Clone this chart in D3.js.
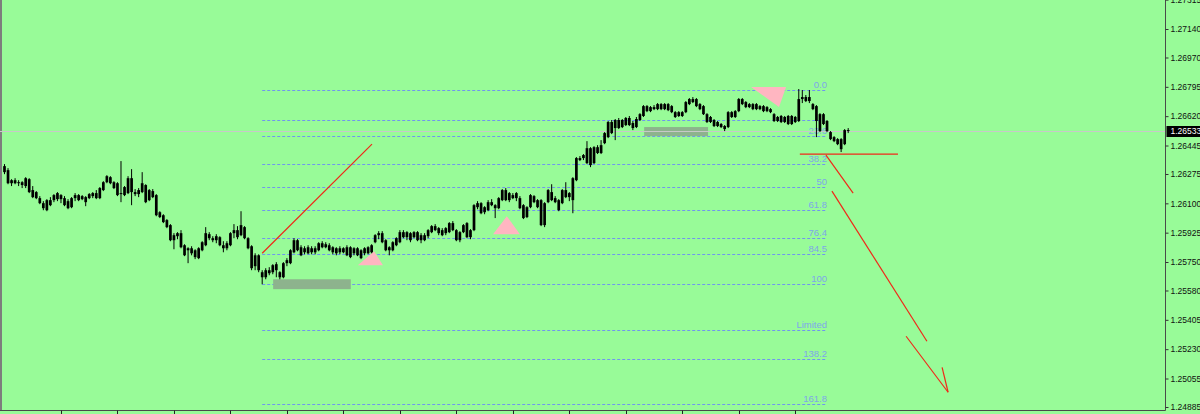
<!DOCTYPE html>
<html><head><meta charset="utf-8">
<script src="https://cdnjs.cloudflare.com/ajax/libs/d3/7.8.5/d3.min.js"></script>
<style>html,body{margin:0;padding:0;background:#98fb98;overflow:hidden}</style></head>
<body><svg id="c" width="1200" height="414"></svg>
<script>
const open=[1.26322,1.26298,1.26220,1.26238,1.26220,1.26226,1.26203,1.26244,1.26179,1.26167,
1.26131,1.26101,1.26059,1.26119,1.26119,1.26161,1.26125,1.26131,1.26113,1.26077,
1.26131,1.26149,1.26125,1.26137,1.26131,1.26143,1.26161,1.26131,1.26179,1.26226,
1.26256,1.26226,1.26220,1.26155,1.26149,1.26161,1.26250,1.26167,1.26155,1.26167,
1.26209,1.26119,1.26173,1.26149,1.26047,1.26029,1.26000,1.25970,1.25880,1.25904,
1.25922,1.25850,1.25820,1.25832,1.25820,1.25773,1.25820,1.25850,1.25916,1.25892,
1.25880,1.25898,1.25850,1.25832,1.25850,1.25922,1.25940,1.25910,1.25958,1.25892,
1.25844,1.25725,1.25790,1.25689,1.25659,1.25701,1.25689,1.25737,1.25689,1.25659,
1.25743,1.25743,1.25808,1.25880,1.25838,1.25808,1.25838,1.25808,1.25832,1.25820,
1.25862,1.25838,1.25850,1.25838,1.25832,1.25808,1.25832,1.25838,1.25838,1.25802,
1.25832,1.25820,1.25802,1.25802,1.25808,1.25868,1.25910,1.25922,1.25880,1.25820,
1.25820,1.25850,1.25868,1.25928,1.25898,1.25922,1.25898,1.25928,1.25880,1.25910,
1.25904,1.25928,1.25964,1.25952,1.25940,1.25922,1.25928,1.25982,1.25940,1.25880,
1.25928,1.25982,1.25898,1.25940,1.26077,1.26101,1.26047,1.26059,1.26107,1.26089,
1.26071,1.26119,1.26179,1.26119,1.26149,1.26131,1.26131,1.26089,1.26018,1.26077,
1.26143,1.26119,1.26119,1.25970,1.26107,1.26167,1.26131,1.26119,1.26101,1.26179,
1.26137,1.26119,1.26238,1.26370,1.26370,1.26340,1.26429,1.26340,1.26435,1.26400,
1.26459,1.26495,1.26585,1.26549,1.26597,1.26555,1.26567,1.26609,1.26579,1.26555,
1.26597,1.26621,1.26680,1.26650,1.26674,1.26662,1.26692,1.26662,1.26692,1.26680,
1.26644,1.26621,1.26644,1.26644,1.26692,1.26722,1.26722,1.26692,1.26680,1.26632,
1.26615,1.26597,1.26561,1.26573,1.26561,1.26555,1.26644,1.26615,1.26650,1.26722,
1.26704,1.26674,1.26692,1.26662,1.26680,1.26680,1.26650,1.26662,1.26632,1.26591,
1.26621,1.26585,1.26621,1.26573,1.26615,1.26591,1.26722,1.26734,1.26710,1.26692,
1.26680,1.26632,1.26573,1.26591,1.26525,1.26495,1.26483,1.26423,1.26453,1.26537];
const high=[1.26334,1.26310,1.26244,1.26250,1.26238,1.26232,1.26256,1.26250,1.26203,1.26173,
1.26143,1.26113,1.26125,1.26137,1.26155,1.26167,1.26155,1.26143,1.26125,1.26137,
1.26161,1.26155,1.26149,1.26143,1.26161,1.26167,1.26179,1.26197,1.26232,1.26268,
1.26262,1.26232,1.26226,1.26352,1.26203,1.26262,1.26304,1.26185,1.26191,1.26286,
1.26214,1.26185,1.26185,1.26155,1.26053,1.26035,1.26006,1.25976,1.25922,1.25928,
1.25940,1.25856,1.25838,1.25844,1.25826,1.25838,1.25874,1.25958,1.25928,1.25904,
1.25916,1.25904,1.25874,1.25874,1.25928,1.25976,1.25964,1.26053,1.25964,1.25898,
1.25850,1.25802,1.25796,1.25701,1.25713,1.25719,1.25737,1.25749,1.25695,1.25749,
1.25773,1.25826,1.25892,1.25886,1.25850,1.25844,1.25850,1.25844,1.25844,1.25868,
1.25874,1.25868,1.25862,1.25844,1.25838,1.25844,1.25838,1.25850,1.25844,1.25838,
1.25838,1.25826,1.25838,1.25844,1.25856,1.25916,1.25934,1.25934,1.25886,1.25844,
1.25874,1.25898,1.25940,1.25940,1.25934,1.25928,1.25934,1.25934,1.25922,1.25922,
1.25946,1.25970,1.25976,1.25958,1.25952,1.25958,1.25988,1.25994,1.25946,1.25934,
1.25976,1.25988,1.25946,1.26095,1.26113,1.26107,1.26083,1.26119,1.26125,1.26095,
1.26137,1.26185,1.26191,1.26167,1.26161,1.26167,1.26143,1.26095,1.26083,1.26155,
1.26149,1.26125,1.26125,1.26107,1.26185,1.26214,1.26143,1.26125,1.26185,1.26226,
1.26167,1.26256,1.26376,1.26382,1.26394,1.26471,1.26435,1.26441,1.26447,1.26477,
1.26525,1.26591,1.26597,1.26603,1.26609,1.26603,1.26615,1.26621,1.26591,1.26615,
1.26638,1.26686,1.26686,1.26680,1.26686,1.26698,1.26698,1.26698,1.26698,1.26686,
1.26650,1.26650,1.26650,1.26710,1.26728,1.26734,1.26728,1.26698,1.26686,1.26638,
1.26621,1.26603,1.26591,1.26579,1.26567,1.26650,1.26650,1.26656,1.26728,1.26728,
1.26710,1.26698,1.26698,1.26698,1.26686,1.26686,1.26680,1.26668,1.26638,1.26621,
1.26627,1.26621,1.26627,1.26627,1.26621,1.26782,1.26776,1.26746,1.26776,1.26698,
1.26686,1.26638,1.26638,1.26597,1.26531,1.26501,1.26489,1.26489,1.26543,1.26549];
const low=[1.26274,1.26214,1.26203,1.26214,1.26203,1.26191,1.26191,1.26161,1.26131,1.26125,
1.26095,1.26059,1.26053,1.26083,1.26107,1.26113,1.26101,1.26083,1.26065,1.26071,
1.26113,1.26113,1.26119,1.26083,1.26125,1.26131,1.26125,1.26125,1.26173,1.26220,
1.26214,1.26185,1.26143,1.26107,1.26143,1.26155,1.26089,1.26143,1.26137,1.26161,
1.26101,1.26113,1.26131,1.26023,1.26012,1.25982,1.25952,1.25874,1.25826,1.25886,
1.25832,1.25785,1.25743,1.25790,1.25767,1.25767,1.25814,1.25844,1.25880,1.25868,
1.25862,1.25844,1.25808,1.25820,1.25844,1.25892,1.25886,1.25904,1.25886,1.25826,
1.25701,1.25701,1.25689,1.25617,1.25647,1.25671,1.25677,1.25659,1.25647,1.25653,
1.25725,1.25737,1.25802,1.25814,1.25785,1.25796,1.25796,1.25796,1.25796,1.25814,
1.25832,1.25832,1.25814,1.25796,1.25790,1.25796,1.25802,1.25785,1.25773,1.25790,
1.25785,1.25767,1.25790,1.25796,1.25802,1.25862,1.25886,1.25862,1.25814,1.25790,
1.25814,1.25844,1.25862,1.25892,1.25880,1.25868,1.25892,1.25874,1.25862,1.25874,
1.25892,1.25922,1.25934,1.25910,1.25904,1.25910,1.25922,1.25934,1.25874,1.25868,
1.25922,1.25892,1.25886,1.25934,1.26065,1.26035,1.26035,1.26053,1.26083,1.26012,
1.26065,1.26113,1.26113,1.26107,1.26125,1.26113,1.26065,1.26006,1.26012,1.26071,
1.26101,1.26071,1.25964,1.25958,1.26101,1.26113,1.26101,1.26053,1.26095,1.26131,
1.26113,1.26041,1.26232,1.26352,1.26358,1.26334,1.26316,1.26334,1.26394,1.26394,
1.26453,1.26489,1.26513,1.26477,1.26543,1.26549,1.26561,1.26561,1.26537,1.26549,
1.26591,1.26615,1.26644,1.26644,1.26656,1.26656,1.26656,1.26656,1.26650,1.26638,
1.26609,1.26615,1.26615,1.26638,1.26686,1.26698,1.26674,1.26656,1.26627,1.26579,
1.26579,1.26555,1.26555,1.26549,1.26531,1.26549,1.26609,1.26609,1.26644,1.26686,
1.26668,1.26668,1.26656,1.26656,1.26656,1.26644,1.26644,1.26638,1.26585,1.26585,
1.26579,1.26579,1.26567,1.26567,1.26579,1.26585,1.26698,1.26704,1.26698,1.26656,
1.26495,1.26525,1.26567,1.26525,1.26477,1.26465,1.26447,1.26406,1.26447,1.26519];
const close=[1.26286,1.26220,1.26238,1.26220,1.26226,1.26209,1.26250,1.26167,1.26137,1.26131,
1.26101,1.26071,1.26119,1.26089,1.26149,1.26125,1.26149,1.26089,1.26071,1.26131,
1.26149,1.26119,1.26143,1.26107,1.26155,1.26161,1.26131,1.26191,1.26226,1.26262,
1.26220,1.26191,1.26149,1.26161,1.26197,1.26250,1.26167,1.26155,1.26179,1.26220,
1.26107,1.26179,1.26137,1.26029,1.26018,1.25988,1.25958,1.25880,1.25910,1.25922,
1.25838,1.25790,1.25832,1.25802,1.25779,1.25832,1.25868,1.25922,1.25892,1.25880,
1.25904,1.25850,1.25832,1.25862,1.25922,1.25940,1.25898,1.25970,1.25892,1.25832,
1.25713,1.25790,1.25701,1.25659,1.25701,1.25683,1.25731,1.25701,1.25659,1.25743,
1.25761,1.25820,1.25880,1.25820,1.25790,1.25832,1.25802,1.25832,1.25808,1.25862,
1.25838,1.25856,1.25820,1.25808,1.25802,1.25832,1.25808,1.25790,1.25779,1.25832,
1.25790,1.25773,1.25832,1.25838,1.25850,1.25910,1.25922,1.25868,1.25820,1.25838,
1.25868,1.25892,1.25928,1.25898,1.25928,1.25880,1.25928,1.25880,1.25910,1.25880,
1.25940,1.25964,1.25940,1.25922,1.25910,1.25952,1.25982,1.25940,1.25880,1.25928,
1.25970,1.25898,1.25940,1.26089,1.26101,1.26041,1.26077,1.26107,1.26089,1.26071,
1.26131,1.26179,1.26119,1.26161,1.26131,1.26161,1.26071,1.26012,1.26077,1.26149,
1.26107,1.26077,1.25970,1.26101,1.26179,1.26119,1.26107,1.26059,1.26179,1.26137,
1.26161,1.26250,1.26370,1.26358,1.26388,1.26429,1.26328,1.26435,1.26400,1.26447,
1.26519,1.26585,1.26519,1.26597,1.26549,1.26597,1.26609,1.26567,1.26549,1.26603,
1.26632,1.26680,1.26650,1.26674,1.26662,1.26692,1.26662,1.26692,1.26656,1.26644,
1.26615,1.26644,1.26621,1.26704,1.26722,1.26704,1.26680,1.26662,1.26632,1.26585,
1.26585,1.26561,1.26585,1.26555,1.26543,1.26644,1.26615,1.26650,1.26722,1.26692,
1.26674,1.26692,1.26662,1.26692,1.26662,1.26650,1.26674,1.26644,1.26591,1.26615,
1.26585,1.26615,1.26573,1.26621,1.26585,1.26722,1.26734,1.26710,1.26734,1.26662,
1.26591,1.26531,1.26632,1.26531,1.26483,1.26471,1.26453,1.26483,1.26537,1.26533];

const priceTicks=[1.27315,1.27140,1.26970,1.26795,1.26620,1.26445,1.26275,1.26100,1.25925,1.25750,1.25580,1.25405,1.25230,1.25055,1.24885];
const timeTickBars=[16,32,48,64,80,96,112,128,144,160,176,192,208,224];
const currentPrice=1.26533;

const fibHigh=1.26776, fibLow=1.25617, fibStartBar=73, fibEndBar=233;
const fibLevels=[0,15.6,23.6,38.2,50,61.8,76.4,84.5,100,123.6,138.2,161.8];
const fibLabels=["0.0","","23.6","38.2","50","61.8","76.4","84.5","100","Limited","138.2","161.8"];

const trendLines=[[73,1.25802,104.1,1.26453],[225.3,1.26394,253.1,1.26394],[232.7,1.26388,240.4,1.26161],
  [234.4,1.26173,261.3,1.25277],[255.4,1.25307,267.3,1.24973],[265.6,1.25122,267.3,1.24973]];
const triangles=[[[104.7,1.25814],[100.1,1.25731],[107.2,1.25731]],
  [[142.3,1.26023],[138.4,1.25916],[146.0,1.25916]],
  [[211.5,1.26794],[221.4,1.26794],[219.4,1.26674]]];
const zones=[[76.1,98.1,1.25647,1.25588],[181.2,199.3,1.26555,1.26501]];

const W=1200,H=414,axisX=1165.5,bottomY=410.5;
const x=d3.scaleLinear().domain([0,239]).range([4.5,848.2]);
const y=d3.scaleLinear().domain([1.24885,1.27140]).range([407,29]);
const svg=d3.select('#c');
svg.append('rect').attr('width',W).attr('height',H).attr('fill','#98fb98');
svg.append('rect').attr('x',0).attr('y',0).attr('width',2).attr('height',bottomY).attr('fill','#7d7d7d');

// fib
const fg=svg.append('g');
fibLevels.forEach((lv,k)=>{
  const p=fibHigh-(fibHigh-fibLow)*lv/100;
  const yy=Math.round(y(p))+0.5;
  fg.append('line').attr('x1',x(fibStartBar)).attr('x2',x(fibEndBar)).attr('y1',yy).attr('y2',yy)
    .attr('stroke','#6f96ee').attr('stroke-width',1).attr('stroke-dasharray','3,2');
  if(fibLabels[k]) fg.append('text').attr('x',x(fibEndBar)).attr('y',yy-2.5).attr('text-anchor','end')
    .attr('fill','#7ea6e8').attr('font-family','Liberation Sans, Arial, sans-serif').attr('font-size','9.5px').text(fibLabels[k]);
});
// zones
zones.forEach(z=>{
  svg.append('rect').attr('x',x(z[0])).attr('width',x(z[1])-x(z[0])).attr('y',y(z[2])).attr('height',y(z[3])-y(z[2]))
    .attr('fill','#8db38d');
});
// triangles
triangles.forEach(t=>{
  svg.append('path').attr('d','M'+t.map(pt=>x(pt[0])+','+y(pt[1])).join('L')+'Z').attr('fill','#ffb6c1');
});
// current price line
const cy=Math.round(y(currentPrice))+0.5;
svg.append('line').attr('x1',0).attr('x2',axisX).attr('y1',cy).attr('y2',cy).attr('stroke','#c8c8c8').attr('stroke-width',1);

// candles
const cg=svg.append('g');
const bw=2.7;
d3.range(open.length).forEach(i=>{
  const cx=x(i);
  cg.append('line').attr('x1',cx).attr('x2',cx).attr('y1',y(high[i])).attr('y2',y(low[i])).attr('stroke','#000').attr('stroke-width',1);
  const t=y(Math.max(open[i],close[i])), b=y(Math.min(open[i],close[i]));
  cg.append('rect').attr('x',cx-bw/2).attr('width',bw).attr('y',t).attr('height',Math.max(1,b-t)).attr('fill','#000');
});

// red trend lines
trendLines.forEach(l=>{
  svg.append('line').attr('x1',x(l[0])).attr('y1',y(l[1])).attr('x2',x(l[2])).attr('y2',y(l[3]))
    .attr('stroke','#f02818').attr('stroke-width',1.2);
});

// frame
svg.append('line').attr('x1',axisX).attr('x2',axisX).attr('y1',0).attr('y2',bottomY).attr('stroke','#4a4a4a');
svg.append('line').attr('x1',0).attr('x2',axisX).attr('y1',bottomY).attr('y2',bottomY).attr('stroke','#4a4a4a');
timeTickBars.forEach(b=>{
  const tx=Math.round(x(b))+0.5;
  svg.append('line').attr('x1',tx).attr('x2',tx).attr('y1',bottomY).attr('y2',H).attr('stroke','#222');
});
const ax=svg.append('g').attr('transform',`translate(${axisX},0)`)
  .call(d3.axisRight(y).tickValues(priceTicks).tickSize(3).tickPadding(2).tickFormat(d3.format('.5f')));
ax.select('.domain').remove();
ax.selectAll('line').attr('stroke','#333');
ax.selectAll('text').attr('fill','#111').attr('font-family','Liberation Sans, Arial, sans-serif').attr('font-size','8.5px');
// current price tag
svg.append('rect').attr('x',axisX+1).attr('y',cy-5.5).attr('width',W-axisX-1).attr('height',11).attr('fill','#000');
svg.append('text').attr('x',axisX+5).attr('y',cy).attr('dy','0.32em').attr('fill','#fff')
  .attr('font-family','Liberation Sans, Arial, sans-serif').attr('font-size','8.5px').text(d3.format('.5f')(currentPrice));
</script></body></html>
